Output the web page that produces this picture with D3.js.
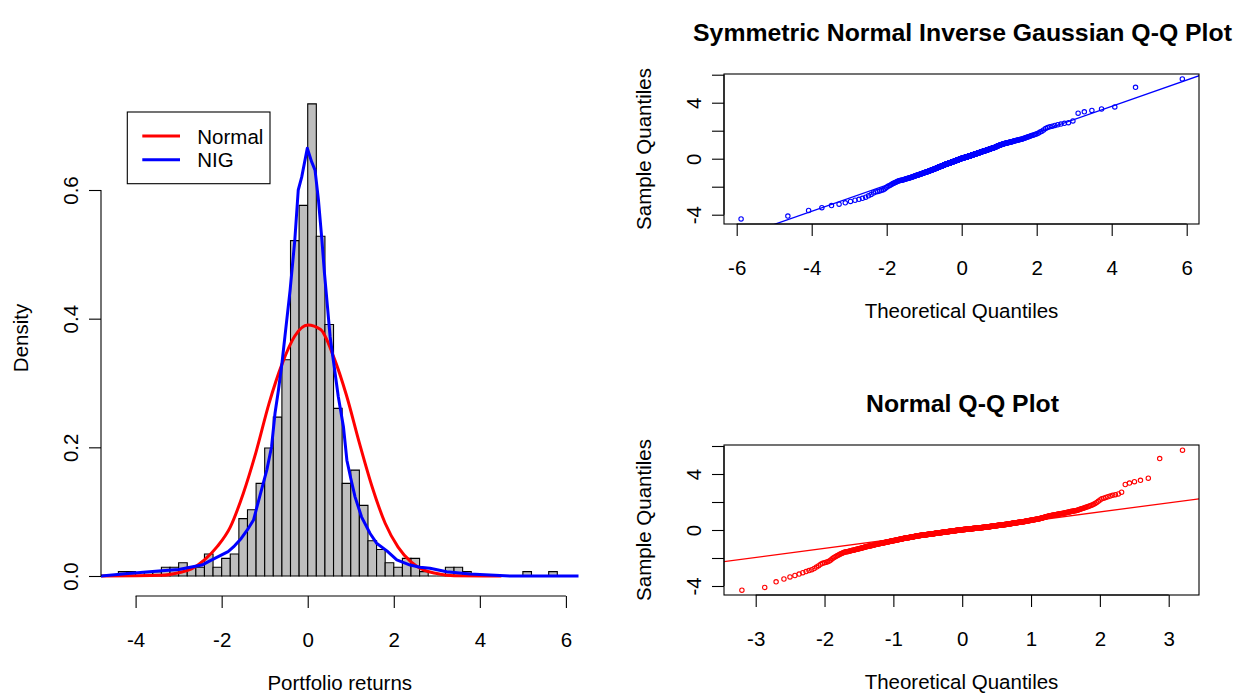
<!DOCTYPE html>
<html>
<head>
    <title>Portfolio returns: histogram and Q-Q plots</title>
    <script src="https://d3js.org/d3.v7.min.js"></script>
    <style>
        body {margin: 0; background: #ffffff;}
        text {font-family: "Liberation Sans", Arial, Helvetica, sans-serif; font-size: 20.5px; fill: #000000;}
        .title {font-weight: bold; font-size: 24.8px;}
        .tick line, .frame {stroke: #000000; stroke-width: 1.1;}
    </style>
</head>
<body>
<svg id="chart" width="1241" height="693"></svg>
<script>
    // histogram of the portfolio returns: counts per bin of width 0.2, first bin starts at -4.4
    const binStart = -4.4;
    const binWidth = 0.2;
    const binCounts = [1, 1, 0, 1, 1, 2, 2, 3, 2, 2, 5, 2, 4, 5, 13, 15, 21, 29, 36, 49,
                       76, 84, 107, 77, 57, 38, 21, 24, 16, 8, 6, 3, 2, 4, 4, 1, 0, 0, 2, 2,
                       1, 0, 0, 0, 0, 0, 0, 1, 0, 0, 1];

    // fitted density curves
    const normalX = [-4.8, -3.4, -3.0, -2.7, -2.4, -2.1, -1.8, -1.5, -1.2, -0.9, -0.6, -0.3, 0.0,
                     0.3, 0.6, 0.9, 1.2, 1.5, 1.8, 2.1, 2.4, 2.7, 3.0, 3.4, 4.5];
    const normalY = [0, 0.001, 0.005, 0.011, 0.025, 0.046, 0.076, 0.128, 0.193, 0.268, 0.329, 0.373, 0.390,
                     0.383, 0.341, 0.281, 0.207, 0.138, 0.082, 0.045, 0.022, 0.009, 0.004, 0.0005, 0];
    const nigX = [-4.83, -4.17, -3.82, -3.39, -3.0, -2.70, -2.46, -2.23, -2.08, -1.85, -1.70, -1.55, -1.40,
                  -1.26, -1.11, -0.95, -0.84, -0.76, -0.68, -0.60, -0.53, -0.41, -0.30, -0.22, -0.14, -0.01,
                  0.09, 0.17, 0.25, 0.33, 0.39, 0.46, 0.52, 0.60, 0.71, 0.83, 0.91, 1.00, 1.10, 1.25, 1.45,
                  1.60, 1.84, 2.07, 2.38, 2.61, 2.84, 3.23, 3.77, 4.7, 6.4];
    const nigY = [0, 0.004, 0.006, 0.008, 0.010, 0.014, 0.017, 0.025, 0.030, 0.038, 0.047, 0.058, 0.072,
                  0.087, 0.125, 0.165, 0.201, 0.253, 0.289, 0.330, 0.372, 0.444, 0.522, 0.600, 0.620, 0.665,
                  0.644, 0.631, 0.584, 0.522, 0.470, 0.418, 0.372, 0.333, 0.279, 0.232, 0.180, 0.152, 0.123,
                  0.092, 0.066, 0.051, 0.039, 0.025, 0.017, 0.0135, 0.012, 0.0067, 0.003, 0, 0];

    // symmetric NIG fit (alpha, delta, mu)
    const nigAlpha = 0.635;
    const nigDelta = 0.68;
    const nigMu = 0;

    // tick values
    const histXTicks = [-4, -2, 0, 2, 4, 6];
    const histYTicks = [0, 0.2, 0.4, 0.6];
    const nigQTicks = [-6, -4, -2, 0, 2, 4, 6];
    const normQTicks = [-3, -2, -1, 0, 1, 2, 3];
    const sampleTicks = [-4, -2, 0, 2, 4, 6];
    const sampleLabels = [-4, 0, 4];

    const svg = d3.select("#chart");

    // ---- the sample, rebuilt from the bins (sorted) ----
    const n = d3.sum(binCounts);
    const sample = [];
    binCounts.forEach(function(c, i) {
        const lo = binStart + i * binWidth;
        for (let k = 0; k < c; k++) sample.push(lo + binWidth * (k + 0.5) / c);
    });
    const probs = sample.map(function(d, i) { return (i + 0.5) / n; });

    // ---- quantile functions ----
    function qnorm(p) {
        const a = [-3.969683028665376e+01, 2.209460984245205e+02, -2.759285104469687e+02, 1.383577518672690e+02, -3.066479806614716e+01, 2.506628277459239e+00];
        const b = [-5.447609879822406e+01, 1.615858368580409e+02, -1.556989798598866e+02, 6.680131188771972e+01, -1.328068155288572e+01];
        const c = [-7.784894002430293e-03, -3.223964580411365e-01, -2.400758277161838e+00, -2.549732539343734e+00, 4.374664141464968e+00, 2.938163982698783e+00];
        const d = [7.784695709041462e-03, 3.224671290700398e-01, 2.445134137142996e+00, 3.754408661907416e+00];
        const pl = 0.02425;
        let q, r;
        if (p < pl) {
            q = Math.sqrt(-2 * Math.log(p));
            return (((((c[0]*q+c[1])*q+c[2])*q+c[3])*q+c[4])*q+c[5]) / ((((d[0]*q+d[1])*q+d[2])*q+d[3])*q+1);
        }
        if (p > 1 - pl) {
            q = Math.sqrt(-2 * Math.log(1 - p));
            return -(((((c[0]*q+c[1])*q+c[2])*q+c[3])*q+c[4])*q+c[5]) / ((((d[0]*q+d[1])*q+d[2])*q+d[3])*q+1);
        }
        q = p - 0.5; r = q * q;
        return (((((a[0]*r+a[1])*r+a[2])*r+a[3])*r+a[4])*r+a[5])*q / (((((b[0]*r+b[1])*r+b[2])*r+b[3])*r+b[4])*r+1);
    }

    function besselI1(x) {
        const y = (x / 3.75) * (x / 3.75);
        return x * (0.5 + y*(0.87890594 + y*(0.51498869 + y*(0.15084934 + y*(0.02658733 + y*(0.00301532 + y*0.00032411))))));
    }
    function besselK1(x) {
        if (x <= 2) {
            const y = x * x / 4;
            return Math.log(x / 2) * besselI1(x) + (1 / x) * (1 + y*(0.15443144 + y*(-0.67278579 + y*(-0.18156897 + y*(-0.01919402 + y*(-0.00110404 + y*(-0.00004686)))))));
        }
        const y = 2 / x;
        return Math.exp(-x) / Math.sqrt(x) * (1.25331414 + y*(0.23498619 + y*(-0.0365562 + y*(0.01504268 + y*(-0.00780353 + y*(0.00325614 + y*(-0.00068245)))))));
    }
    function dnig(x) {
        const q = Math.sqrt(nigDelta * nigDelta + (x - nigMu) * (x - nigMu));
        return nigAlpha * nigDelta * Math.exp(nigAlpha * nigDelta) * besselK1(nigAlpha * q) / (Math.PI * q);
    }
    // cumulative distribution on a fine grid, inverted by bisection
    const step = 0.005;
    const grid = d3.range(-40, 40 + step / 2, step);
    const cdf = [0];
    let prev = dnig(grid[0]);
    for (let i = 1; i < grid.length; i++) {
        const cur = dnig(grid[i]);
        cdf.push(cdf[i - 1] + (prev + cur) / 2 * step);
        prev = cur;
    }
    const total = cdf[cdf.length - 1];
    for (let i = 0; i < cdf.length; i++) cdf[i] /= total;
    function qnig(p) {
        const i = Math.max(1, d3.bisectLeft(cdf, p));
        const t = (p - cdf[i - 1]) / (cdf[i] - cdf[i - 1]);
        return grid[i - 1] + t * step;
    }

    // qqline through the quartiles, like R
    function qqLine(qfun) {
        const y1 = d3.quantileSorted(sample, 0.25), y2 = d3.quantileSorted(sample, 0.75);
        const x1 = qfun(0.25), x2 = qfun(0.75);
        const slope = (y2 - y1) / (x2 - x1);
        return {slope: slope, intercept: y1 - slope * x1};
    }

    // ---- R style axes ----
    function bottomAxis(g, scale, ticks, y, fmt) {
        const ax = g.append("g").attr("transform", "translate(0," + y + ")")
            .call(d3.axisBottom(scale).tickValues(ticks).tickSize(12).tickFormat(fmt));
        ax.select(".domain").remove();
        ax.attr("font-size", null).attr("font-family", null);
        ax.selectAll(".tick text").attr("y", 51).attr("dy", null);
        ax.append("line").attr("class", "frame")
          .attr("x1", scale(ticks[0])).attr("x2", scale(ticks[ticks.length - 1]));
    }
    function leftAxis(g, scale, ticks, x, fmt) {
        const ax = g.append("g").attr("transform", "translate(" + x + ",0)")
            .call(d3.axisLeft(scale).tickValues(ticks).tickSize(12).tickFormat(fmt));
        ax.select(".domain").remove();
        ax.attr("font-size", null).attr("font-family", null);
        ax.selectAll(".tick text").attr("x", null).attr("dy", null)
          .attr("text-anchor", "middle")
          .attr("transform", "translate(-23,0) rotate(-90)");
        ax.append("line").attr("class", "frame")
          .attr("y1", scale(ticks[0])).attr("y2", scale(ticks[ticks.length - 1]));
    }
    function rotatedLabel(txt, x, y) {
        svg.append("text").attr("text-anchor", "middle")
           .attr("transform", "translate(" + x + "," + y + ") rotate(-90)").text(txt);
    }

    // ================= histogram =================
    const hist = {left: 101, right: 578.5, top: 40, bottom: 596};
    const xH = d3.scaleLinear().domain([-4, 6]).range([135.6, 565.9]);
    const yH = d3.scaleLinear().domain([0, 0.6]).range([576, 190]);

    svg.append("clipPath").attr("id", "clipHist").append("rect")
       .attr("x", hist.left).attr("y", hist.top)
       .attr("width", hist.right - hist.left).attr("height", hist.bottom - hist.top);

    const bins = binCounts.map(function(c, i) {
        return {x0: binStart + i * binWidth, x1: binStart + (i + 1) * binWidth, density: c / (n * binWidth)};
    });
    svg.append("g").selectAll("path").data(bins).enter().append("path")
       .attr("d", function(d) {
           return "M" + xH(d.x0) + "," + yH(0) + "V" + yH(d.density) + "H" + xH(d.x1) + "V" + yH(0) + "Z";
       })
       .attr("fill", "#bebebe").attr("stroke", "#000000").attr("stroke-width", 1.1);

    const normalLine = d3.line().x(function(d) { return xH(d[0]); }).y(function(d) { return yH(d[1]); })
                         .curve(d3.curveMonotoneX);
    const nigLine = d3.line().x(function(d) { return xH(d[0]); }).y(function(d) { return yH(d[1]); });

    svg.append("path").datum(d3.zip(normalX, normalY)).attr("d", normalLine)
       .attr("clip-path", "url(#clipHist)")
       .attr("fill", "none").attr("stroke", "#ff0000").attr("stroke-width", 3);
    svg.append("path").datum(d3.zip(nigX, nigY)).attr("d", nigLine)
       .attr("clip-path", "url(#clipHist)")
       .attr("fill", "none").attr("stroke", "#0000ff").attr("stroke-width", 3).attr("stroke-linejoin", "round");

    bottomAxis(svg, xH, histXTicks, hist.bottom, function(d) { return String(d); });
    leftAxis(svg, yH, histYTicks, hist.left, d3.format(".1f"));
    svg.append("text").attr("x", (hist.left + hist.right) / 2).attr("y", hist.bottom + 94)
       .attr("text-anchor", "middle").text("Portfolio returns");
    rotatedLabel("Density", hist.left - 73, 338);

    // legend
    const legend = svg.append("g");
    legend.append("rect").attr("class", "frame").attr("x", 127.3).attr("y", 112)
          .attr("width", 142.7).attr("height", 71.7).attr("fill", "#ffffff");
    [["Normal", "#ff0000"], ["NIG", "#0000ff"]].forEach(function(item, i) {
        const y = 136 + i * 23.7;
        legend.append("line").attr("x1", 142.3).attr("x2", 180).attr("y1", y).attr("y2", y)
              .attr("stroke", item[1]).attr("stroke-width", 3);
        legend.append("text").attr("x", 197.3).attr("y", y + 7.5).text(item[0]);
    });

    // ================= Q-Q plots =================
    function qqPanel(opt) {
        const box = opt.box;
        const id = "clip" + opt.key;
        svg.append("clipPath").attr("id", id).append("rect")
           .attr("x", box.left).attr("y", box.top)
           .attr("width", box.right - box.left).attr("height", box.bottom - box.top);

        const pts = sample.map(function(s, i) { return [opt.qfun(probs[i]), s]; });
        svg.append("g").selectAll("circle").data(pts).enter().append("circle")
           .attr("cx", function(d) { return opt.x(d[0]); })
           .attr("cy", function(d) { return opt.y(d[1]); })
           .attr("r", 2.2).attr("fill", "none")
           .attr("stroke", opt.color).attr("stroke-width", 1.1);

        const ln = qqLine(opt.qfun);
        const xd = [opt.x.invert(box.left) - 1, opt.x.invert(box.right) + 1];
        svg.append("line").attr("clip-path", "url(#" + id + ")")
           .attr("x1", opt.x(xd[0])).attr("y1", opt.y(ln.intercept + ln.slope * xd[0]))
           .attr("x2", opt.x(xd[1])).attr("y2", opt.y(ln.intercept + ln.slope * xd[1]))
           .attr("stroke", opt.color).attr("stroke-width", 1.3);

        svg.append("rect").attr("class", "frame").attr("fill", "none")
           .attr("x", box.left).attr("y", box.top)
           .attr("width", box.right - box.left).attr("height", box.bottom - box.top);

        bottomAxis(svg, opt.x, opt.xTicks, box.bottom, function(d) { return String(d); });
        leftAxis(svg, opt.y, sampleTicks, box.left, function(d) {
            return sampleLabels.indexOf(d) >= 0 ? String(d) : "";
        });

        const cx = (box.left + box.right) / 2;
        svg.append("text").attr("class", "title").attr("x", cx + 1).attr("y", box.top - 33)
           .attr("text-anchor", "middle").text(opt.title);
        svg.append("text").attr("x", cx).attr("y", box.bottom + 94)
           .attr("text-anchor", "middle").text("Theoretical Quantiles");
        rotatedLabel("Sample Quantiles", box.left - 73, (box.top + box.bottom) / 2);
    }

    qqPanel({
        key: "Nig",
        box: {left: 724, right: 1199, top: 74, bottom: 224},
        x: d3.scaleLinear().domain([-6, 6]).range([736.7, 1186.7]),
        y: d3.scaleLinear().domain([-4, 6]).range([214.7, 74.7]),
        xTicks: nigQTicks,
        qfun: qnig,
        color: "#0000ff",
        title: "Symmetric Normal Inverse Gaussian Q-Q Plot"
    });

    qqPanel({
        key: "Norm",
        box: {left: 724, right: 1199, top: 445, bottom: 595},
        x: d3.scaleLinear().domain([-3, 3]).range([755.7, 1168.7]),
        y: d3.scaleLinear().domain([-4, 6]).range([586, 446]),
        xTicks: normQTicks,
        qfun: qnorm,
        color: "#ff0000",
        title: "Normal Q-Q Plot"
    });
</script>
</body>
</html>
